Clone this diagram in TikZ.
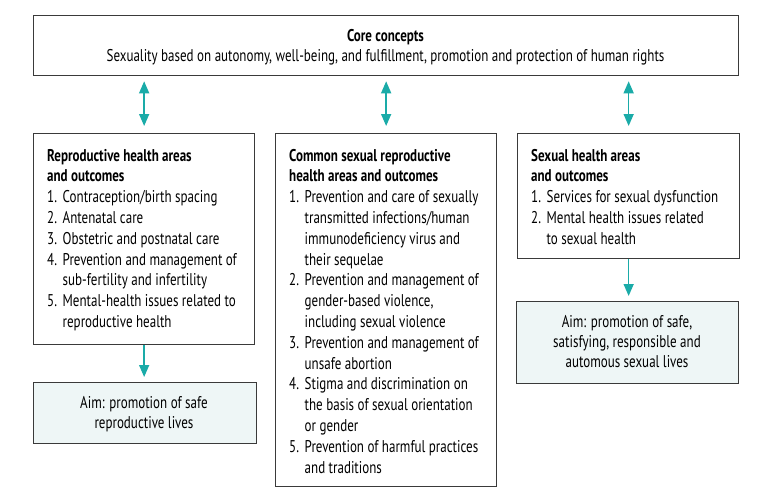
\documentclass[tikz,border=0pt]{standalone}
\usepackage{fontspec}
\setmainfont{PT Sans}[FakeStretch=0.765]
\usetikzlibrary{arrows.meta}
\definecolor{teal1}{HTML}{1AABA8}
\definecolor{aimfill}{HTML}{EEF6F6}
\definecolor{boxline}{HTML}{3A3A3A}
\newcommand\itm[2]{\makebox[15.5pt][l]{#1}#2}
\newcommand\cnt{\hspace*{15.5pt}}
\tikzset{
 box/.style={draw=boxline, line width=1.3pt, inner sep=0pt, anchor=north west},
 aimbox/.style={box, fill=aimfill},
 txt/.style={inner sep=0pt, anchor=base west, font=\fontsize{17}{20.8}\selectfont},
 ctxt/.style={txt, anchor=base},
 link/.style={draw=teal1, line width=1.5pt, -{Triangle[width=10pt,length=12pt]}},
 dlink/.style={link, {Triangle[width=10pt,length=12pt]}-{Triangle[width=10pt,length=12pt]}},
}
\begin{document}
\begin{tikzpicture}[x=1pt,y=-1pt]
\useasboundingbox (0,0) rectangle (771,503);
% boxes
\node[box, minimum width=705pt, minimum height=60pt] (core) at (33,15) {};
\node[box, minimum width=221pt, minimum height=211pt] (lbox) at (33,133) {};
\node[box, minimum width=221pt, minimum height=353pt] (mbox) at (275,133) {};
\node[box, minimum width=222pt, minimum height=125pt] (rbox) at (517,133) {};
\node[aimbox, minimum width=223pt, minimum height=61pt] (laim) at (33,382) {};
\node[aimbox, minimum width=222pt, minimum height=82pt] (raim) at (516,301) {};
% texts
\node[ctxt, font=\fontsize{17}{20}\selectfont] (coretxt) at (385.5,41.7) {\begin{tabular}[t]{@{}c@{}}\bfseries Core concepts\\ Sexuality based on autonomy, well-being, and fulfillment, promotion and protection of human rights\end{tabular}};
\node[txt] (ltxt) at (47,161) {\begin{tabular}[t]{@{}l@{}}\bfseries Reproductive health areas\\ \bfseries and outcomes\\
\itm{1.}{Contraception/birth spacing}\\
\itm{2.}{Antenatal care}\\
\itm{3.}{Obstetric and postnatal care}\\
\itm{4.}{Prevention and management of}\\
\cnt sub-fertility and infertility\\
\itm{5.}{Mental-health issues related to}\\
\cnt reproductive health\end{tabular}};
\node[txt] (mtxt) at (289,161) {\begin{tabular}[t]{@{}l@{}}\bfseries Common sexual reproductive\\ \bfseries health areas and outcomes\\
\itm{1.}{Prevention and care of sexually}\\
\cnt transmitted infections/human\\
\cnt immunodeficiency virus and\\
\cnt their sequelae\\
\itm{2.}{Prevention and management of}\\
\cnt gender-based violence,\\
\cnt including sexual violence\\
\itm{3.}{Prevention and management of}\\
\cnt unsafe abortion\\
\itm{4.}{Stigma and discrimination on}\\
\cnt the basis of sexual orientation\\
\cnt or gender\\
\itm{5.}{Prevention of harmful practices}\\
\cnt and traditions\end{tabular}};
\node[txt] (rtxt) at (531,161) {\begin{tabular}[t]{@{}l@{}}\bfseries Sexual health areas\\ \bfseries and outcomes\\
\itm{1.}{Services for sexual dysfunction}\\
\itm{2.}{Mental health issues related}\\
\cnt to sexual health\end{tabular}};
\node[ctxt, font=\fontsize{17}{20}\selectfont] (laimtxt) at (144,408) {\begin{tabular}[t]{@{}c@{}}Aim: promotion of safe\\ reproductive lives\end{tabular}};
\node[ctxt, font=\fontsize{17}{20}\selectfont] (raimtxt) at (627,327) {\begin{tabular}[t]{@{}c@{}}Aim: promotion of safe,\\ satisfying, responsible and\\ automous sexual lives\end{tabular}};
% connectors
\draw[dlink, shorten <=5pt, shorten >=7pt] (core.south -| lbox.north) -- (lbox.north);
\draw[dlink, shorten <=5pt, shorten >=7pt] (core.south -| mbox.north) -- (mbox.north);
\draw[dlink, shorten <=5pt, shorten >=7pt] (core.south -| rbox.north) -- (rbox.north);
\draw[link, shorten >=5pt] (lbox.south) -- (lbox.south |- laim.north);
\draw[link, shorten >=5pt] (rbox.south) -- (rbox.south |- raim.north);
\end{tikzpicture}
\end{document}
